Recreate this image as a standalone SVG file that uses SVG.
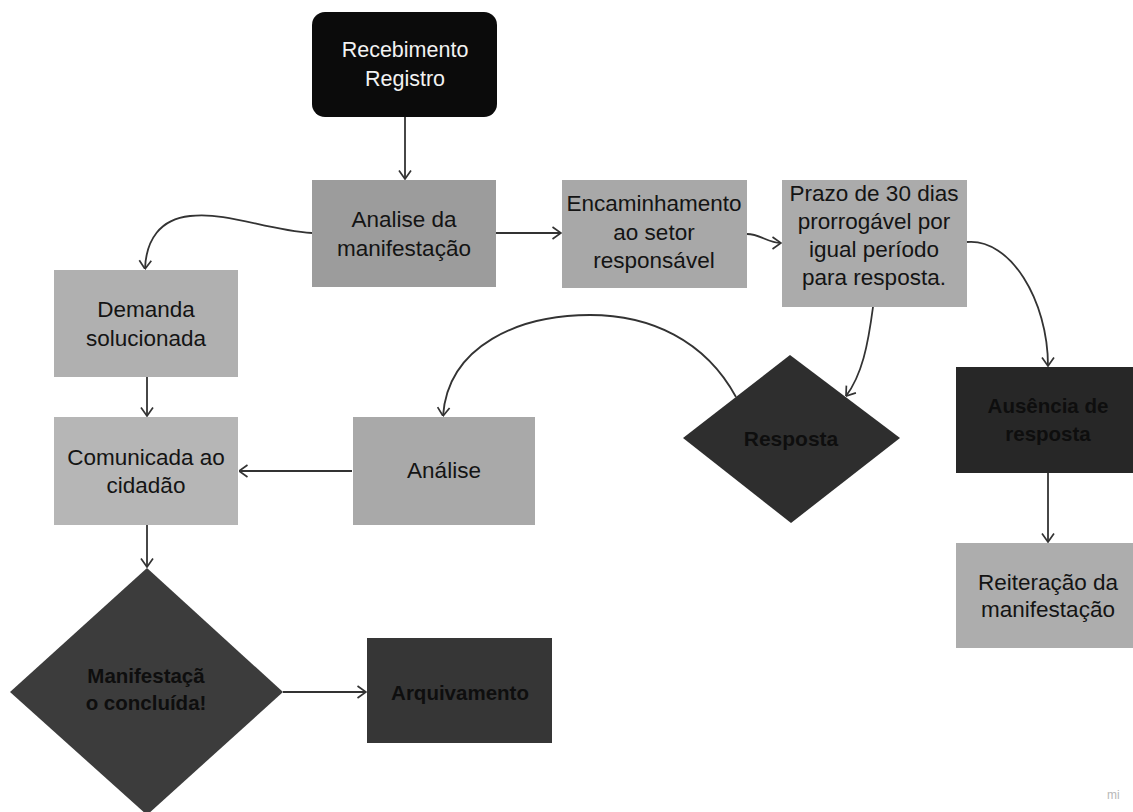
<svg xmlns="http://www.w3.org/2000/svg" width="1133" height="812" viewBox="0 0 1133 812">
<style>
  .t { font-family: "Liberation Sans", Arial, sans-serif; font-size: 22.5px; fill: #141414; text-anchor: middle; }
  .tw { font-family: "Liberation Sans", Arial, sans-serif; font-size: 21.5px; fill: #f2f2f2; text-anchor: middle; }
  .tb { font-family: "Liberation Sans", Arial, sans-serif; font-size: 20.5px; font-weight: bold; fill: #0e0e0e; text-anchor: middle; }
  .c { fill: none; stroke: #333; stroke-width: 1.8; marker-end: url(#ah); }
  .wm { font-family: "Liberation Sans", Arial, sans-serif; font-size: 12px; fill: #b8b8b8; }
</style>
<defs>
  <marker id="ah" markerUnits="userSpaceOnUse" viewBox="0 0 10 14" refX="9.5" refY="7" markerWidth="10" markerHeight="14" orient="auto">
    <path d="M1,1 L9.5,7 L1,13" fill="none" stroke="#333" stroke-width="1.7"/>
  </marker>
</defs>
<rect width="1133" height="812" fill="#ffffff"/>

<g id="recebimento">
  <rect x="312" y="12" width="185" height="105" rx="13" fill="#0b0b0b"/>
  <text class="tw" x="405" y="57">Recebimento</text>
  <text class="tw" x="405" y="86">Registro</text>
</g>
<g id="analise-manifestacao">
  <rect x="312" y="180" width="184" height="107" fill="#9c9c9c"/>
  <text class="t" x="404" y="227">Analise da</text>
  <text class="t" x="404" y="256">manifestação</text>
</g>
<g id="encaminhamento">
  <rect x="562" y="180" width="185" height="108" fill="#a8a8a8"/>
  <text class="t" x="654" y="211">Encaminhamento</text>
  <text class="t" x="654" y="240">ao setor</text>
  <text class="t" x="654" y="268">responsável</text>
</g>
<g id="prazo">
  <rect x="782" y="180" width="185" height="127" fill="#ababab"/>
  <text class="t" x="874" y="201">Prazo de 30 dias</text>
  <text class="t" x="874" y="229">prorrogável por</text>
  <text class="t" x="874" y="257">igual período</text>
  <text class="t" x="874" y="285">para resposta.</text>
</g>
<g id="demanda">
  <rect x="54" y="270" width="184" height="107" fill="#b0b0b0"/>
  <text class="t" x="146" y="317">Demanda</text>
  <text class="t" x="146" y="346">solucionada</text>
</g>
<g id="resposta">
  <polygon points="790,355 900,438 791,523 683,438" fill="#2e2e2e"/>
  <text class="tb" x="791" y="446" style="font-size:21px">Resposta</text>
</g>
<g id="ausencia">
  <rect x="956" y="367" width="184" height="106" fill="#272727"/>
  <text class="tb" x="1048" y="413">Ausência de</text>
  <text class="tb" x="1048" y="441">resposta</text>
</g>
<g id="analise">
  <rect x="353" y="417" width="182" height="108" fill="#a9a9a9"/>
  <text class="t" x="444" y="478">Análise</text>
</g>
<g id="comunicada">
  <rect x="54" y="417" width="184" height="108" fill="#b6b6b6"/>
  <text class="t" x="146" y="465">Comunicada ao</text>
  <text class="t" x="146" y="493">cidadão</text>
</g>
<g id="reiteracao">
  <rect x="956" y="543" width="184" height="105" fill="#adadad"/>
  <text class="t" x="1048" y="590">Reiteração da</text>
  <text class="t" x="1048" y="617">manifestação</text>
</g>
<g id="manifestacao-concluida">
  <polygon points="147,568 283,692 147,815 10,692" fill="#3c3c3c"/>
  <text class="tb" x="146" y="683">Manifestaçã</text>
  <text class="tb" x="146" y="710">o concluída!</text>
</g>
<g id="arquivamento">
  <rect x="367" y="638" width="185" height="105" fill="#363636"/>
  <text class="tb" x="460" y="700">Arquivamento</text>
</g>

<g id="connectors">
  <path class="c" d="M405,117 L405,179"/>
  <path class="c" d="M496,233 L561,233"/>
  <path class="c" d="M747,234 C760,234 768,243 781,243"/>
  <path class="c" d="M312,233 C265,230 230,212 190,216 C160,219 146,240 145,269"/>
  <path class="c" d="M967,242 C1010,238 1048,300 1048,366"/>
  <path class="c" d="M873,307 C868,345 862,375 846,396"/>
  <path class="c" d="M736,397 C705,340 650,315 590,315 C520,315 448,345 443,416"/>
  <path class="c" d="M147,377 L147,416"/>
  <path class="c" d="M352,471 L239,471"/>
  <path class="c" d="M147,525 L147,567"/>
  <path class="c" d="M283,692 L366,692"/>
  <path class="c" d="M1048,473 L1048,542"/>
</g>

<text class="wm" x="1107" y="799">mi</text>
</svg>
